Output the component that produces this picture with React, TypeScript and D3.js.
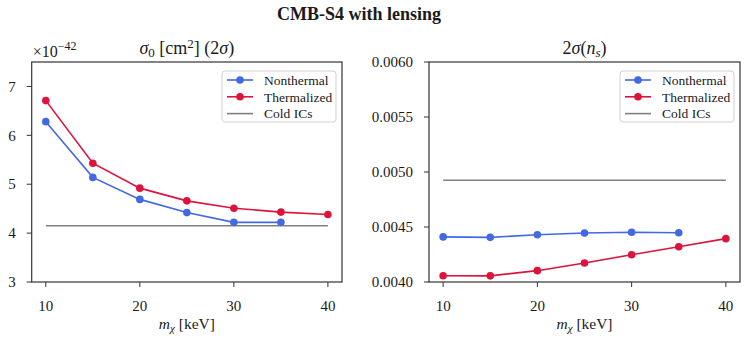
import React from "react";
import * as d3 from "d3";

const massKeV = [10, 15, 20, 25, 30, 35, 40];
const sigmaNonthermal = [6.28, 5.14, 4.69, 4.42, 4.22, 4.22];
const sigmaThermalized = [6.71, 5.43, 4.92, 4.66, 4.51, 4.43, 4.38];
const sigmaCold = 4.15;
const nsNonthermal = [0.00441, 0.004406, 0.00443, 0.004445, 0.004452, 0.004448];
const nsThermalized = [0.004057, 0.004056, 0.004103, 0.004173, 0.004248, 0.004321, 0.004394];
const nsCold = 0.004925;
const sigmaTicks = [3, 4, 5, 6, 7];
const nsTicks = [0.004, 0.0045, 0.005, 0.0055, 0.006];
const massTicks = [10, 20, 30, 40];
const legendLabels = ["Nonthermal", "Thermalized", "Cold ICs"];

const W = 747;
const H = 343;
const top = 62;
const bottom = 282;
const FONT = "Liberation Serif, DejaVu Serif, serif";
const BLUE = "#4169e1";
const RED = "#dc143c";
const GRAY = "#808080";
const AXIS = "#333";

type PanelProps = {
  x0: number;
  x1: number;
  yDomain: [number, number];
  yTicks: number[];
  fmt: (v: number) => string;
  nonthermal: number[];
  thermalized: number[];
  cold: number;
  title: React.ReactNode;
  offset?: boolean;
};

const Panel = ({ x0, x1, yDomain, yTicks, fmt, nonthermal, thermalized, cold, title, offset }: PanelProps) => {
  const x = d3.scaleLinear().domain([8.5, 41.5]).range([x0, x1]);
  const y = d3.scaleLinear().domain(yDomain).range([bottom, top]);
  const line = d3
    .line<number>()
    .x((_, i) => x(massKeV[i]))
    .y((d) => y(d));

  const series = [
    { vals: nonthermal, color: BLUE },
    { vals: thermalized, color: RED },
  ];
  const cx = (x0 + x1) / 2;
  const lx = x1 - 120;
  const ly = 71;

  return (
    <g>
      {/* cold ICs reference */}
      <line x1={x(10)} x2={x(40)} y1={y(cold)} y2={y(cold)} stroke={GRAY} strokeWidth={1.6} />
      {series.map((s, k) => (
        <g key={k}>
          <path d={line(s.vals) || ""} fill="none" stroke={s.color} strokeWidth={1.6} />
          {s.vals.map((v, i) => (
            <circle key={i} cx={x(massKeV[i])} cy={y(v)} r={3.8} fill={s.color} />
          ))}
        </g>
      ))}

      <rect x={x0} y={top} width={x1 - x0} height={bottom - top} fill="none" stroke={AXIS} strokeWidth={1.2} />

      {yTicks.map((t) => (
        <g key={t}>
          <line x1={x0 - 5} x2={x0} y1={y(t)} y2={y(t)} stroke={AXIS} strokeWidth={1} />
          <text x={x0 - 16} y={y(t)} dy="0.35em" textAnchor="end" fontSize={15}>
            {fmt(t)}
          </text>
        </g>
      ))}
      {massTicks.map((t) => (
        <g key={t}>
          <line x1={x(t)} x2={x(t)} y1={bottom} y2={bottom + 5} stroke={AXIS} strokeWidth={1} />
          <text x={x(t)} y={bottom + 29} textAnchor="middle" fontSize={15}>
            {t}
          </text>
        </g>
      ))}

      <text x={cx} y={329} textAnchor="middle" fontSize={15.5}>
        <tspan fontStyle="italic">m</tspan>
        <tspan fontStyle="italic" fontSize={11} dy={3}>χ</tspan>
        <tspan dy={-3}> [keV]</tspan>
      </text>
      <text x={cx} y={54} textAnchor="middle" fontSize={18}>
        {title}
      </text>
      {offset && (
        <text x={x0 + 1} y={57} fontSize={16}>
          ×10<tspan fontSize={12} dy={-7}>−42</tspan>
        </text>
      )}

      <rect x={lx} y={ly} width={114} height={51} rx={3} fill="#fff" fillOpacity={0.8} stroke="#d0d0d0" strokeWidth={1} />
      {legendLabels.map((lab, i) => {
        const yy = ly + 9 + i * 16.8;
        const col = [BLUE, RED, GRAY][i];
        return (
          <g key={lab}>
            <line x1={lx + 5} x2={lx + 31} y1={yy} y2={yy} stroke={col} strokeWidth={1.6} />
            {i < 2 && <circle cx={lx + 18} cy={yy} r={3.8} fill={col} />}
            <text x={lx + 42} y={yy} dy="0.35em" fontSize={13.5}>
              {lab}
            </text>
          </g>
        );
      })}
    </g>
  );
};

export default function App() {
  return (
    <svg
      width={W}
      height={H}
      fontFamily={FONT}
      fill="#1a1a1a"
      style={{ position: "absolute", left: 0, top: 0, background: "#fff" }}
    >
      <rect width={W} height={H} fill="#fff" />
      <text x={359} y={20} textAnchor="middle" fontSize={18} fontWeight="bold">
        CMB-S4 with lensing
      </text>
      <Panel
        x0={31.7}
        x1={342}
        yDomain={[3, 7.5]}
        yTicks={sigmaTicks}
        fmt={(v) => String(v)}
        nonthermal={sigmaNonthermal}
        thermalized={sigmaThermalized}
        cold={sigmaCold}
        offset
        title={
          <>
            <tspan fontStyle="italic">σ</tspan>
            <tspan fontSize={13} dy={3}>0</tspan>
            <tspan dy={-3}> [cm</tspan>
            <tspan fontSize={13} dy={-6}>2</tspan>
            <tspan dy={6}>] (2</tspan>
            <tspan fontStyle="italic">σ</tspan>
            <tspan>)</tspan>
          </>
        }
      />
      <Panel
        x0={429}
        x1={740}
        yDomain={[0.004, 0.006]}
        yTicks={nsTicks}
        fmt={d3.format(".4f")}
        nonthermal={nsNonthermal}
        thermalized={nsThermalized}
        cold={nsCold}
        title={
          <>
            <tspan>2</tspan>
            <tspan fontStyle="italic">σ</tspan>
            <tspan>(</tspan>
            <tspan fontStyle="italic">n</tspan>
            <tspan fontStyle="italic" fontSize={13} dy={3}>s</tspan>
            <tspan dy={-3}>)</tspan>
          </>
        }
      />
    </svg>
  );
}
